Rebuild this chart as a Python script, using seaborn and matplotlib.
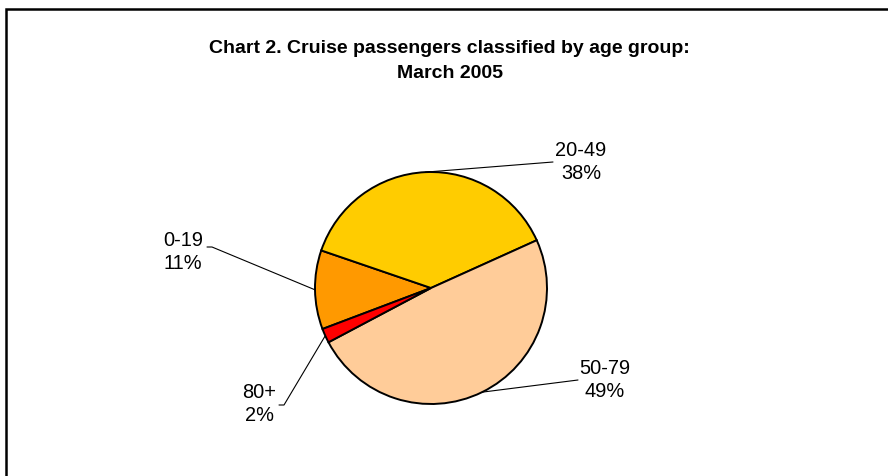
import numpy as np
import matplotlib
matplotlib.use("Agg")
import matplotlib.pyplot as plt
from matplotlib.patches import Rectangle
import seaborn as sns

# Chart data (Excel-style pie, clockwise order)
age_groups = ["0-19", "20-49", "50-79", "80+"]
shares = [11, 38, 49, 2]
slice_colors = ["#FF9900", "#FFCC00", "#FFCC99", "#FF0000"]
title = "Chart 2. Cruise passengers classified by age group:\nMarch 2005"

sns.set_theme(style="white")
plt.rcParams['font.family'] = ['Liberation Sans', 'DejaVu Sans']
plt.rcParams['text.color'] = 'black'

W, H = 888, 476
fig = plt.figure(figsize=(W / 100, H / 100), dpi=100)
ax = fig.add_axes([0, 0, 1, 1])

def px(x, y):
    # image pixel coords (y from top) -> data coords
    return x, H - y

cx, cy = px(431, 288)
radius = 116
palette = sns.color_palette(slice_colors)

wedges, _ = ax.pie(shares, colors=palette, startangle=200.7, counterclock=False,
                   center=(cx, cy), radius=radius,
                   wedgeprops=dict(edgecolor="black", linewidth=1.4))

ax.set_xlim(0, W)
ax.set_ylim(0, H)
ax.set_aspect("equal")
ax.axis("off")

# label text centres and leader-line ends (pixel layout)
label_pos = {"0-19": (183, 252), "20-49": (581, 162), "50-79": (605, 380), "80+": (259, 404)}
leader_end = {"0-19": [(207, 247), (212, 247)], "20-49": [(553, 162)],
              "50-79": [(578, 380)], "80+": [(279, 405), (284, 405)]}

for w, name, val in zip(wedges, age_groups, shares):
    mid = np.deg2rad((w.theta1 + w.theta2) / 2)
    ex = cx + radius * np.cos(mid)
    ey = cy + radius * np.sin(mid)
    pts = [px(*p) for p in leader_end[name]] + [(ex, ey)]
    xs, ys = zip(*pts)
    ax.plot(xs, ys, color="black", lw=0.8)
    tx, ty = px(*label_pos[name])
    ax.text(tx, ty, f"{name}\n{val}%", ha="center", va="center", fontsize=14.4,
            linespacing=1.26, color="black")

fig.text(449.5 / W, 1 - 61 / H, title, ha="center", va="center", fontsize=14,
         fontweight="bold", linespacing=1.68, color="black")

fig.add_artist(Rectangle((6 / W, -0.1), 2, (H - 9) / H + 0.1, transform=fig.transFigure,
                         fill=False, edgecolor="black", lw=1.8))

fig.savefig("out.png", dpi=100)
